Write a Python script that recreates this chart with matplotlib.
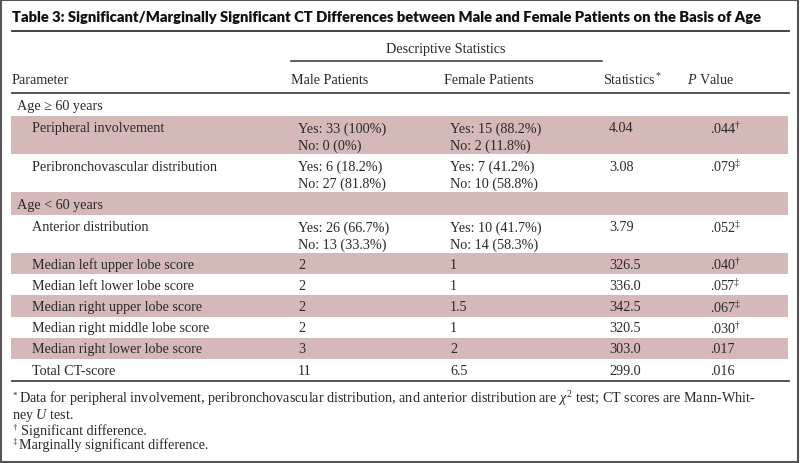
import matplotlib.pyplot as plt
from matplotlib.patches import Rectangle

plt.rcParams['mathtext.fontset'] = 'custom'
plt.rcParams['mathtext.rm'] = 'Liberation Serif'
plt.rcParams['mathtext.it'] = 'Liberation Serif:italic'

title = 'Table 3: Significant/Marginally Significant CT Differences between Male and Female Patients on the Basis of Age'

params = ['Age \u2265 60 years', 'Peripheral involvement', 'Peribronchovascular distribution',
          'Age < 60 years', 'Anterior distribution', 'Median left upper lobe score',
          'Median left lower lobe score', 'Median right upper lobe score',
          'Median right middle lobe score', 'Median right lower lobe score', 'Total CT-score']
is_group = [True, False, False, True, False, False, False, False, False, False, False]
male = [[], ['Yes: 33 (100%)', 'No: 0 (0%)'], ['Yes: 6 (18.2%)', 'No: 27 (81.8%)'],
        [], ['Yes: 26 (66.7%)', 'No: 13 (33.3%)'], ['2'], ['2'], ['2'], ['2'], ['3'], ['11']]
female = [[], ['Yes: 15 (88.2%)', 'No: 2 (11.8%)'], ['Yes: 7 (41.2%)', 'No: 10 (58.8%)'],
          [], ['Yes: 10 (41.7%)', 'No: 14 (58.3%)'], ['1'], ['1'], ['1.5'], ['1'], ['2'], ['6.5']]
stats = ['', '4.04', '3.08', '', '3.79', '326.5', '336.0', '342.5', '320.5', '303.0', '299.0']
pvals = ['', '.044', '.079', '', '.052', '.040', '.057', '.067', '.030', '.017', '.016']
pmarks = ['', '\u2020', '\u2021', '', '\u2021', '\u2020', '\u2021', '\u2021', '\u2020', '', '']

foot_marks = ['*', '', '\u2020', '\u2021']
foot_texts = [
    'Data for peripheral involvement, peribronchovascular distribution, and anterior distribution are $\\chi^2$ test; CT scores are Mann-Whit-',
    'ney $\\mathit{U}$ test.',
    'Significant difference.',
    'Marginally significant difference.',
]

shade = '#d5b9b8'
txt = '#2a2a2a'
serif = 'Liberation Serif'
fs = 10.2

fig = plt.figure(figsize=(8, 4.64), dpi=100)
ax = fig.add_axes([0, 0, 1, 1])
ax.set_xlim(0, 800)
ax.set_ylim(464, 0)
ax.axis('off')

# frame
fig.patches.append(Rectangle((0.001, 0.002), 0.997, 0.996, transform=fig.transFigure,
                             fill=False, edgecolor='#555555', linewidth=1.5))

ax.text(12, 17, title, fontsize=10.6, fontweight='heavy', family='Lato', color='#111111', va='center')
ax.plot([12, 789], [32, 32], color='#333333', lw=1.3)

# header
ax.text(446, 50, 'Descriptive Statistics', fontsize=fs, family=serif, color=txt, ha='center', va='center')
ax.plot([291, 602], [62, 62], color='#333333', lw=1.1)
hy = 80
ax.text(12, hy, 'Parameter', fontsize=fs, family=serif, color=txt, va='center')
ax.text(291, hy, 'Male Patients', fontsize=fs, family=serif, color=txt, va='center')
ax.text(444, hy, 'Female Patients', fontsize=fs, family=serif, color=txt, va='center')
ax.text(603, hy, 'Statistics$^*$', fontsize=fs, family=serif, color=txt, va='center')
ax.text(687, hy, '$\\mathit{P}$ Value', fontsize=fs, family=serif, color=txt, va='center')
ax.plot([12, 789], [94, 94], color='#444444', lw=1.3)

# body rows
x_par, x_ind, x_m, x_f, x_s, x_p = 17, 32, 298, 450, 609, 710
y = 94.5
for i, name in enumerate(params):
    nlines = max(1, len(male[i]))
    h = 22.5 if is_group[i] else (21.2 if nlines == 1 else 38.2)
    if i % 2 == 1:
        ax.add_patch(Rectangle((11, y), 777, h, facecolor=shade, edgecolor='none', zorder=0))
    ty = y + 12 if nlines > 1 else y + h / 2 + 0.5
    ax.text(x_par if is_group[i] else x_ind, ty, name, fontsize=fs, family=serif, color=txt, va='center')
    for k, line in enumerate(male[i]):
        ax.text(x_m, ty + 17 * k, line, fontsize=fs, family=serif, color=txt, va='center')
    for k, line in enumerate(female[i]):
        ax.text(x_f, ty + 17 * k, line, fontsize=fs, family=serif, color=txt, va='center')
    if stats[i]:
        ax.text(x_s, ty, stats[i], fontsize=fs, family=serif, color=txt, va='center')
        p = pvals[i] + ('$^' + pmarks[i] + '$' if pmarks[i] else '')
        ax.text(x_p, ty, p, fontsize=fs, family=serif, color=txt, va='center')
    y += h

ax.plot([12, 789], [y + 1, y + 1], color='#444444', lw=1.3)

# footnotes
fy = [399, 416, 431, 445]
fx = [19, 12, 21, 19]
for m, t, yy, xx in zip(foot_marks, foot_texts, fy, fx):
    if m:
        ax.text(13, yy - 3, m, fontsize=6.5, family=serif, color=txt, va='center')
    ax.text(xx, yy, t, fontsize=10.2, family=serif, color=txt, va='center')

fig.savefig('out.png', dpi=100)
